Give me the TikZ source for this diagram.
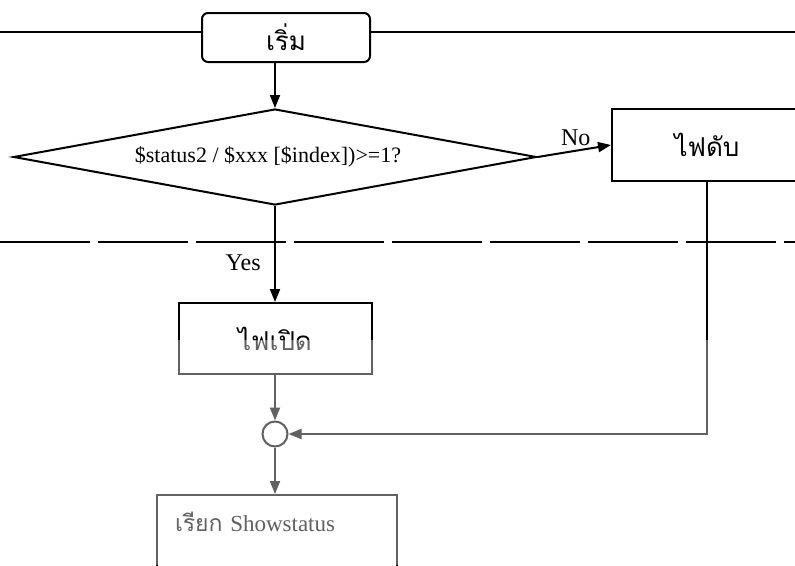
\documentclass[tikz,border=0pt]{standalone}
\usepackage{fontspec}
\setmainfont{Liberation Serif}
\newfontfamily\thaifont[Script=Thai]{Loma}
\usetikzlibrary{arrows.meta,shapes.geometric}
\tikzset{
  flowline/.style={line width=2pt},
  flowarrow/.style={flowline, -{Triangle[length=13pt,width=10pt]}},
  procbox/.style={draw, line width=2pt, fill=white, inner sep=0pt},
  thaitext/.style={font=\thaifont\fontsize{26}{26}\selectfont},
  labeltext/.style={font=\fontsize{24}{24}\selectfont},
}

\begin{document}
\begin{tikzpicture}[x=1pt, y=-1pt]
  \useasboundingbox (0,0) rectangle (795,565);
  \clip (0,0) rectangle (795,565);
  % rule lines of the page
  \draw[flowline] (0,32) -- (795,32);
  \draw[flowline, dash pattern=on 90pt off 8pt] (0,242) -- (795,242);
  % steps
  \node[procbox, rounded corners=6pt, minimum width=168pt, minimum height=49pt, thaitext] (start) at (286,37.5) {เริ่ม};
  \node[draw, diamond, aspect=5.4, minimum width=523pt, minimum height=96pt, inner sep=0pt, line width=2pt, font=\fontsize{22}{22}\selectfont] (check) at (275,157) {\$status2 / \$xxx [\$index])>=1?\hspace*{14pt}};
  \node[procbox, minimum width=190pt, minimum height=72pt, thaitext] (off) at (707,145) {ไฟดับ};
  \node[procbox, minimum width=193pt, minimum height=71pt, thaitext] (on) at (275,338.5) {ไฟเปิด};
  \node[draw, circle, minimum size=25pt, inner sep=0pt, line width=2pt] (join) at (275,434) {};
  \node[procbox, minimum width=240pt, text width=204pt, align=left, text height=36pt, text depth=50pt, anchor=base, font=\fontsize{23}{23}\selectfont] (call) at (277,531) {{\thaifont เรียก} Showstatus};
  % connectors
  \draw[flowarrow] (start.south -| check.north) -- (check.north);
  \draw[flowarrow] (check.east) -- node[above=1pt, pos=0.52, labeltext] {No} (off.west);
  \draw[flowarrow] (check.south) -- node[left=10pt, pos=0.59, labeltext] {Yes} (on.north);
  \draw[flowarrow] (on.south) -- (join.north);
  \draw[flowarrow] (off.south) |- (join.east);
  \draw[flowarrow] (join.south) -- (join.south |- call.north);
  % faded lower half
  \fill[white, opacity=0.38] (0,340) rectangle (795,565);
\end{tikzpicture}
\end{document}
